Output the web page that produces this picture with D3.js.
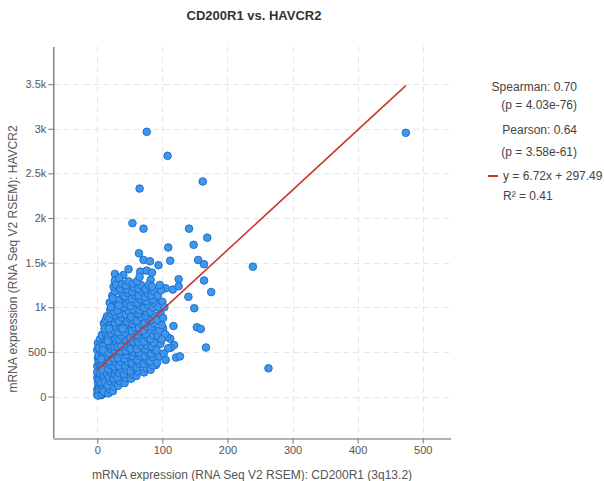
<!DOCTYPE html>
<html>
<head>
<meta charset="utf-8">
<script src="https://cdn.jsdelivr.net/npm/d3@7"></script>
<style>
  body { margin: 0; background: #fff; }
  svg { display: block; }
  text { font-family: "Liberation Sans", Arial, Helvetica, sans-serif; }
</style>
</head>
<body>
<svg id="chart" width="604" height="481"></svg>
<script>
// Labels
const chartTitle = "CD200R1 vs. HAVCR2";
const xTitle = "mRNA expression (RNA Seq V2 RSEM): CD200R1 (3q13.2)";
const yTitle = "mRNA expression (RNA Seq V2 RSEM): HAVCR2";

// Axis ticks
const xTicks = [0, 100, 200, 300, 400, 500];
const xTickLabels = ["0", "100", "200", "300", "400", "500"];
const yTicks = [0, 500, 1000, 1500, 2000, 2500, 3000, 3500];
const yTickLabels = ["0", "500", "1k", "1.5k", "2k", "2.5k", "3k", "3.5k"];

// Per-sample expression: CD200R1 (x) and HAVCR2 (y), same order in both arrays
const cd200r1 = [
  76,108,65,162,474,54,71,141,169,148,
  109,64,112,155,164,239,48,125,164,105,
  116,125,140,175,149,117,153,159,112,118,
  113,167,105,121,127,263,90,95,71,81,
  94,66,76,84,27,82,40,109,86,91,
  101,107,
  0,1,0,2,1,0,3,1,0,2,
  1,3,0,2,1,4,3,5,4,2,
  5,4,3,5,4,2,6,1,3,0,
  2,5,4,6,3,
  7,8,9,6,10,8,11,7,9,12,
  8,10,13,9,11,7,12,14,10,13,
  15,12,14,13,15,11,14,12,15,13,
  14,11,15,12,14,15,13,11,9,6,
  8,10,12,15,9,
  17,19,16,20,18,22,17,21,19,23,
  18,22,20,24,17,21,25,19,23,18,
  22,20,24,19,26,23,27,25,24,26,
  28,25,27,29,26,28,25,29,27,26,
  29,28,30,26,29,27,30,28,26,29,
  30,28,27,29,21,16,18,24,
  32,35,31,34,37,33,36,32,38,35,
  31,39,34,37,32,36,40,33,38,35,
  31,39,36,34,40,37,35,34,38,42,
  44,41,45,43,47,42,46,44,48,41,
  45,49,43,47,42,46,50,44,48,41,
  45,49,43,47,46,44,48,33,39,36,
  52,55,51,57,53,58,54,56,52,59,
  55,51,57,53,58,54,56,52,59,55,
  51,57,53,58,54,56,55,60,63,61,
  65,62,66,64,61,67,63,68,62,66,
  64,69,61,67,63,65,68,62,66,64,
  69,63,67,61,65,
  72,75,71,77,73,79,74,76,72,78,
  75,71,77,73,79,74,76,72,78,75,
  73,77,74,79,82,85,81,86,83,88,
  84,87,82,86,89,83,87,84,88,82,
  86,89,85,83,87,84,
  92,95,91,97,93,96,99,92,97,94,
  100,93,98,102,104,101,103,99,96
];
const havcr2 = [
  2966,2697,2330,2410,2955,1942,1881,1881,1780,1700,
  1670,1605,1522,1530,1482,1455,1426,1314,1300,1213,
  1198,1235,1117,1170,989,790,776,757,648,577,
  547,549,410,437,450,316,353,630,1530,1515,
  1471,1399,1410,1388,1373,1306,1360,540,1157,1074,
  764,670,
  20,45,80,120,160,210,250,290,340,380,
  430,470,520,560,600,30,95,140,190,235,
  310,360,410,500,640,60,15,10,180,270,
  455,580,260,330,540,
  25,70,115,160,200,245,290,335,380,420,
  465,510,550,600,640,690,730,770,820,860,
  900,40,90,140,185,230,275,320,365,405,
  450,495,530,575,615,670,710,760,560,420,
  300,55,160,250,520,
  35,80,125,170,215,260,305,350,395,440,
  485,530,575,620,665,710,750,795,840,880,
  925,970,1010,1052,1090,1130,1180,1230,60,110,
  150,200,245,290,335,380,425,470,515,560,
  605,650,690,735,780,825,865,905,950,995,
  1040,1085,1300,1250,1000,620,760,1100,
  120,170,215,260,300,345,390,430,470,510,
  555,595,640,680,720,765,805,845,885,925,
  965,1005,1045,1085,1125,1165,1205,1325,1260,150,
  205,250,295,340,385,425,465,510,550,590,
  630,670,715,755,795,840,880,920,960,1000,
  1040,1080,1120,1160,1200,1245,1290,1020,760,560,
  200,245,290,330,375,415,455,495,535,575,
  615,655,695,735,775,815,855,895,935,975,
  1015,1055,1095,1135,1175,1220,1265,230,280,325,
  365,410,450,490,530,570,610,650,690,730,
  770,810,850,890,930,970,1010,1050,1090,1130,
  1170,1210,1250,1290,1340,
  270,320,365,405,450,490,530,575,615,655,
  700,740,780,820,860,905,945,990,1030,1070,
  1115,1160,1205,1250,300,350,395,440,480,520,
  560,605,645,690,735,775,820,860,905,950,
  995,1040,1085,1130,1180,1230,
  380,450,520,590,680,740,800,860,930,1000,
  1060,1130,1190,480,700,880,1000,640,1250
];

// Linear fit and correlation summary
const fitSlope = 6.72;
const fitIntercept = 297.49;
const statLines = ["Spearman: 0.70", "(p = 4.03e-76)", "Pearson: 0.64", "(p = 3.58e-61)"];
const fitLabel = "y = 6.72x + 297.49";
const r2Label = "R\u00B2 = 0.41";

const svg = d3.select("#chart");

const x = d3.scaleLinear().domain([-67.6, 543]).range([53.3, 450.7]);
const y = d3.scaleLinear().domain([-465, 3922]).range([438, 46.5]);

const [xl, xr] = x.range();
const [yb, yt] = y.range();

// Dashed grid
const grid = svg.append("g").attr("stroke", "#e6e6e6").attr("stroke-dasharray", "6,4").attr("stroke-width", 1);
grid.selectAll("line.v").data(xTicks).join("line")
  .attr("class", "v")
  .attr("x1", d => Math.round(x(d)) + 0.5).attr("x2", d => Math.round(x(d)) + 0.5)
  .attr("y1", yt).attr("y2", yb);
grid.selectAll("line.h").data(yTicks).join("line")
  .attr("class", "h")
  .attr("x1", xl).attr("x2", xr)
  .attr("y1", d => Math.round(y(d)) + 0.5).attr("y2", d => Math.round(y(d)) + 0.5);

// Axes
const xAxis = d3.axisBottom(x).tickValues(xTicks).tickFormat((d, i) => xTickLabels[i])
  .tickSize(5).tickPadding(3).tickSizeOuter(0);
const yAxis = d3.axisLeft(y).tickValues(yTicks).tickFormat((d, i) => yTickLabels[i])
  .tickSize(5).tickPadding(2).tickSizeOuter(0);

const gx = svg.append("g").attr("transform", `translate(0,${yb + 0.5})`).call(xAxis);
const gy = svg.append("g").attr("transform", `translate(${xl},0)`).call(yAxis);
[gx, gy].forEach(g => {
  g.select(".domain").attr("stroke", "#666").attr("stroke-width", 1.2);
  g.selectAll(".tick line").attr("stroke", "#777");
  g.selectAll(".tick text").attr("fill", "#555").attr("font-size", 11)
    .attr("font-family", "'Liberation Sans', Arial, sans-serif");
});

// Samples
const samples = d3.range(Math.min(cd200r1.length, havcr2.length)).map(i => ({ x: cd200r1[i], y: havcr2[i] }));
svg.append("g").selectAll("circle").data(samples).join("circle")
  .attr("cx", d => x(d.x)).attr("cy", d => y(d.y)).attr("r", 3.8)
  .attr("fill", "#3f97eb").attr("stroke", "#1f70d0").attr("stroke-width", 1);

// Regression line over the CD200R1 range
const xExtent = d3.extent(cd200r1);
const fitLine = d3.line().x(d => x(d)).y(d => y(fitSlope * d + fitIntercept));
svg.append("path").datum(xExtent).attr("d", fitLine)
  .attr("fill", "none").attr("stroke", "#c8372d").attr("stroke-width", 1.6);

// Titles
svg.append("text").attr("x", 254).attr("y", 20).attr("text-anchor", "middle")
  .attr("font-size", 13).attr("font-weight", "bold").attr("fill", "#333").text(chartTitle);
svg.append("text").attr("x", (xl + xr) / 2).attr("y", 479).attr("text-anchor", "middle")
  .attr("font-size", 12).attr("fill", "#555").text(xTitle);
svg.append("text").attr("transform", "translate(17,259) rotate(-90)").attr("text-anchor", "middle")
  .attr("font-size", 12).attr("fill", "#555").text(yTitle);

// Correlation legend
const legend = svg.append("g").attr("font-size", 12).attr("fill", "#444");
const statY = [91, 109, 134, 156];
legend.selectAll("text.stat").data(statLines).join("text")
  .attr("class", "stat").attr("x", 577).attr("y", (d, i) => statY[i])
  .attr("text-anchor", "end").text(d => d);
legend.append("line").attr("x1", 488).attr("x2", 498).attr("y1", 176).attr("y2", 176)
  .attr("stroke", "#c8372d").attr("stroke-width", 2);
legend.append("text").attr("x", 503).attr("y", 180).text(fitLabel);
legend.append("text").attr("x", 503).attr("y", 200).text(r2Label);
</script>
</body>
</html>
